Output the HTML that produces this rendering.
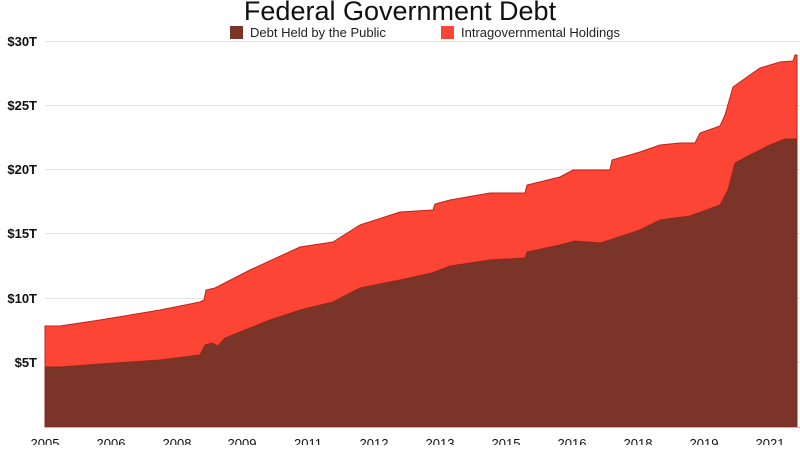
<!DOCTYPE html>
<html><head><meta charset="utf-8"><style>
html,body{margin:0;padding:0;background:#fff;}
svg text{font-family:"Liberation Sans",sans-serif;}
</style></head><body>
<svg width="800" height="445" viewBox="0 0 800 445" xmlns="http://www.w3.org/2000/svg">
<text x="400" y="20" text-anchor="middle" font-size="27" fill="#111">Federal Government Debt</text>
<rect x="230" y="26" width="13" height="13" fill="#7a3428"/>
<text x="250" y="37" font-size="13" fill="#222">Debt Held by the Public</text>
<rect x="441" y="26" width="13" height="13" fill="#fd4536"/>
<text x="461" y="37" font-size="13" fill="#222">Intragovernmental Holdings</text>
<g stroke="#e2e2e2" stroke-width="1">
<line x1="45" x2="800" y1="41.5" y2="41.5"/><line x1="45" x2="800" y1="105.5" y2="105.5"/>
<line x1="45" x2="800" y1="169.5" y2="169.5"/><line x1="45" x2="800" y1="233.5" y2="233.5"/>
<line x1="45" x2="800" y1="298.5" y2="298.5"/><line x1="45" x2="800" y1="362.5" y2="362.5"/>
</g>
<g font-size="13" font-weight="bold" fill="#111" text-anchor="end">
<text x="37" y="46">$30T</text><text x="37" y="110">$25T</text><text x="37" y="174">$20T</text>
<text x="37" y="238">$15T</text><text x="37" y="303">$10T</text><text x="37" y="367">$5T</text>
</g>
<polygon fill="#fd4536" stroke="#c0231a" stroke-width="1" points="45,427 45,326 60,326 100,320 160,310 200,302 204,300 206,290 215,288 250,270 300,247 333,242 360,225 400,212 433,210 435,204 450,200 490,193 525,193 527,185 560,177 573,170 610,170 612,160 640,152 660,145 680,143 695,143 700,133 720,126 725,115 733,87 740,82 760,68 780,62 793,61 795,55 797,55 797,427"/>
<polygon fill="#7a3428" stroke="#8a2a1e" stroke-width="1" points="45,427 45,367 60,367 100,364 160,360 200,355 205,345 212,343 218,346 225,338 250,328 270,320 300,310 333,302 360,288 400,280 432,273 450,266 490,260 525,258 527,252 560,245 575,241 600,243 610,240 640,230 660,220 690,216 720,205 728,190 735,163 750,155 770,145 785,139 797,139 797,427"/>
<line x1="45" x2="800" y1="427.5" y2="427.5" stroke="#bbb"/>
<g font-size="13" fill="#111" text-anchor="middle">
<text x="45" y="448">2005</text><text x="111" y="448">2006</text><text x="177" y="448">2008</text>
<text x="242" y="448">2009</text><text x="308" y="448">2011</text><text x="374" y="448">2012</text>
<text x="440" y="448">2013</text><text x="506" y="448">2015</text><text x="572" y="448">2016</text>
<text x="638" y="448">2018</text><text x="704" y="448">2019</text><text x="770" y="448">2021</text>
</g>
</svg>
</body></html>
